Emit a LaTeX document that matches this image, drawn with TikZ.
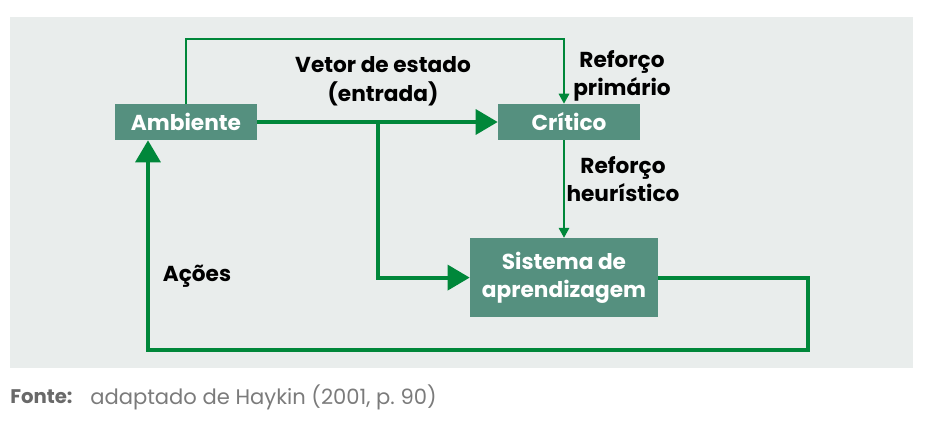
\documentclass[tikz,border=0pt]{standalone}
\usepackage{fontspec}
\setmainfont{Poppins}
\usepackage{xcolor}
\usepackage{tikz}
\usetikzlibrary{arrows.meta,positioning,calc}
\definecolor{panelgray}{HTML}{E9EDEC}
\definecolor{boxteal}{HTML}{55907F}
\definecolor{linegreen}{HTML}{00873A}
\definecolor{capgray}{HTML}{7B7B7B}
\tikzset{
  >=Stealth,
  bigarr/.style={-{Triangle[length=0.55cm,width=0.62cm]},draw=linegreen,line width=2.8pt},
  smallarr/.style={-{Triangle[length=0.25cm,width=0.26cm]},draw=linegreen,line width=1.4pt},
}

\begin{document}
\begin{tikzpicture}[
  blk/.style={fill=boxteal,text=white,align=center,inner sep=0pt,
    font=\fontsize{15.4}{19.5}\selectfont\bfseries},
  lab/.style={align=center,inner sep=0pt,font=\fontsize{15.4}{20}\selectfont\bfseries},
]
  \useasboundingbox (0,0) rectangle (23.2,-10.6);
  \fill[panelgray] (0.25,-0.425) rectangle (22.825,-9.2);

  % blocks
  \node[blk,minimum width=3.55cm,minimum height=0.9cm] (amb) at (4.65,-3.05) {Ambiente};
  \node[blk,minimum width=3.55cm,minimum height=0.9cm] (crit) at (14.225,-3.05) {Crítico};
  \node[blk,minimum width=4.7cm,minimum height=1.975cm] (sis) at (14.1,-6.94) {Sistema de\\aprendizagem};

  % labels
  \node[lab] (vet) at (9.575,-2.03) {Vetor de estado\\(entrada)};
  \node[lab] (rprim) at (15.55,-1.9) {Reforço\\primário};
  \node[lab] (rheur) at (15.575,-4.475) {Reforço\\heurístico};
  \node[lab] (acoes) at (4.925,-6.9) {Ações};

  % connectors
  \coordinate (br) at (9.45,-3.05);
  \coordinate (ret) at (20.2,-8.75);
  \draw[smallarr] (amb.north) -- ++(0,1.625) -| (sis.north |- crit.north);
  \draw[bigarr] (amb) -- (crit);
  \draw[bigarr] (br) |- (sis.west);
  \draw[smallarr] (sis.north |- crit.south) -- (sis.north);
  \draw[bigarr] (sis.east) -| (ret) -| ([xshift=-0.95cm]amb.south);

  % source
  \node[anchor=west,inner sep=0pt,text=capgray!85!black,font=\fontsize{14}{16}\selectfont\bfseries] (fonte) at (0.25,-9.925) {Fonte:};
  \node[anchor=west,inner sep=0pt,text=capgray,font=\fontsize{15}{17}\selectfont] (ref) at (2.25,-9.925) {adaptado de Haykin (2001, p.~90)};
\end{tikzpicture}
\end{document}
